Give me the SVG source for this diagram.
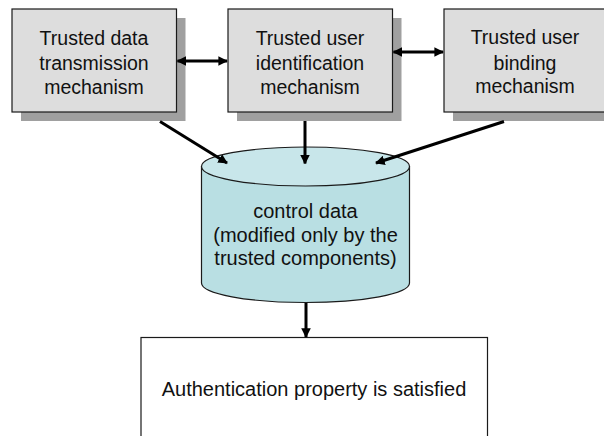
<svg xmlns="http://www.w3.org/2000/svg" width="604" height="436" viewBox="0 0 604 436">
  <style>
    .box { fill: #DDDDDD; stroke: #1a1a1a; stroke-width: 1.2; }
    .shadow { fill: #A0A0A0; }
    .lbl { font-family: "Liberation Sans", Arial, sans-serif; font-size: 19.5px; fill: #111; text-anchor: middle; dominant-baseline: central; }
    .conn { stroke: #000; stroke-width: 3; fill: none; }
    .cyl-side { fill: #B9DFE3; stroke: #1a1a1a; stroke-width: 1.2; }
    .cyl-top { fill: #C8E6EA; stroke: #1a1a1a; stroke-width: 1.2; }
  </style>
  <defs>
    <marker id="head" viewBox="0 0 10 10" refX="9" refY="5" markerWidth="3.2" markerHeight="3.2" orient="auto-start-reverse" markerUnits="strokeWidth">
      <path d="M0,0 L10,5 L0,10 z" fill="#000"/>
    </marker>
  </defs>
  <rect width="604" height="436" fill="#FFFFFF"/>

  <g id="node-transmission">
    <rect class="shadow" x="21" y="18" width="164.5" height="103"/>
    <rect class="box" x="12" y="9" width="164.5" height="103"/>
    <text class="lbl" x="94" y="38">Trusted data</text>
    <text class="lbl" x="94" y="63">transmission</text>
    <text class="lbl" x="94" y="87">mechanism</text>
  </g>

  <g id="node-identification">
    <rect class="shadow" x="237" y="18" width="164.5" height="103"/>
    <rect class="box" x="228" y="9" width="164.5" height="103"/>
    <text class="lbl" x="310" y="38">Trusted user</text>
    <text class="lbl" x="310" y="63">identification</text>
    <text class="lbl" x="310" y="87">mechanism</text>
  </g>

  <g id="node-binding">
    <rect class="shadow" x="453" y="18" width="170" height="103"/>
    <rect class="box" x="444" y="9" width="170" height="103"/>
    <text class="lbl" x="525" y="37">Trusted user</text>
    <text class="lbl" x="525" y="63">binding</text>
    <text class="lbl" x="525" y="86">mechanism</text>
  </g>

  <g id="node-control-data">
    <path class="cyl-side" d="M201.5,166.5 L201.5,283 A104,19.5 0 0 0 409.5,283 L409.5,166.5 Z"/>
    <ellipse class="cyl-top" cx="305.5" cy="166.5" rx="104" ry="19.5"/>
    <text class="lbl" x="305.5" y="211" style="font-size:20px">control data</text>
    <text class="lbl" x="305.5" y="235" style="font-size:20px">(modified only by the</text>
    <text class="lbl" x="305.5" y="258" style="font-size:20px">trusted components)</text>
  </g>

  <g id="node-authentication">
    <rect x="141" y="337.5" width="346.5" height="110" fill="#FFFFFF" stroke="#1a1a1a" stroke-width="1.2"/>
    <text class="lbl" x="314" y="389" style="font-size:20px">Authentication property is satisfied</text>
  </g>

  <g id="connectors">
    <line class="conn" x1="177.5" y1="61" x2="227" y2="61" marker-start="url(#head)" marker-end="url(#head)"/>
    <line class="conn" x1="393.5" y1="52" x2="443" y2="52" marker-start="url(#head)" marker-end="url(#head)"/>
    <line class="conn" x1="160" y1="121.5" x2="227" y2="163" marker-end="url(#head)"/>
    <line class="conn" x1="305" y1="121" x2="305" y2="163.5" marker-end="url(#head)"/>
    <line class="conn" x1="504" y1="121.5" x2="376" y2="163" marker-end="url(#head)"/>
    <line class="conn" x1="306" y1="303" x2="306" y2="337" marker-end="url(#head)"/>
  </g>
</svg>
